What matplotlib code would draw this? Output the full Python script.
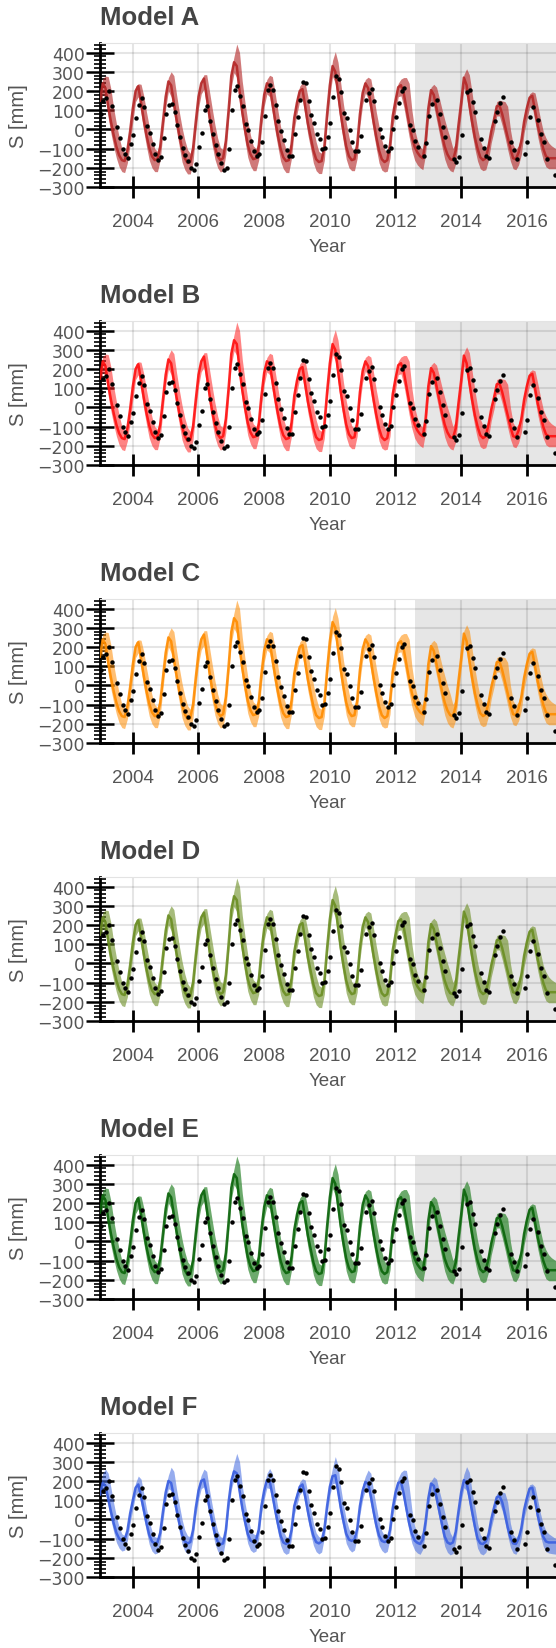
import numpy as np
import matplotlib
matplotlib.use("Agg")
import matplotlib.pyplot as plt
from matplotlib.ticker import MultipleLocator, FixedLocator

plt.rcParams['font.family'] = ['Liberation Sans', 'DejaVu Sans']

nan = np.nan

# observed storage anomaly, one value per month starting Jan 2003 (nan = no data)
OBS_S = [
    80, 150, 165, 200, 120, nan, 10, -45, -100, -130, -150, -75,
    -30, 60, 125, 165, 115, 20, -20, -75, -130, -160, -145, -45,
    80, 125, 130, 90, 25, -40, -95, -135, -165, -200, -210, -180,
    -90, -20, 100, 120, 45, -25, -80, -130, -175, -210, -200, -100,
    100, 205, 225, 175, 120, 30, -5, -60, -115, -140, -130, -65,
    70, 205, 230, 205, 125, 45, -10, -55, -105, -140, -140, -25,
    65, 155, 245, 243, 150, 75, 35, -25, -50, -100, -95, -40,
    35, 170, 278, 263, 195, 85, 60, -5, -65, -110, -110, -35,
    nan, 155, 190, 210, 150, nan, 0, -40, -85, -110, -95, 0,
    65, 135, 200, 215, nan, 25, -5, -62, -93, nan, -140, -72,
    72, 134, nan, 155, 82, 12, -40, nan, nan, -154, -172, -145,
    -28, nan, 196, 205, 143, 89, nan, -51, -98, -138, -148, nan,
    45, 90, 140, 167, nan, nan, -64, -105, -152, nan, nan, -130,
    -64, 62, 117, nan, 51, -23, -67, -156, nan, nan, -239,
]

# models A-E (nearly identical ensembles): median, lower and upper bound, monthly 2003-2016
MED_AE = [
    150, 240, 215, 120, 40, -30, -90, -135, -160, -165, -110, -10,
    110, 200, 225, 140, 50, -30, -95, -140, -160, -155, -90, 40,
    170, 250, 230, 140, 50, -30, -100, -150, -175, -170, -100, 40,
    170, 240, 265, 170, 70, -20, -90, -140, -160, -150, -60, 100,
    280, 350, 330, 200, 90, 0, -80, -130, -155, -150, -90, 60,
    180, 240, 230, 140, 50, -30, -100, -145, -165, -160, -80, 60,
    140, 200, 210, 120, 30, -40, -110, -155, -170, -165, -90, 80,
    230, 330, 300, 190, 80, -10, -90, -140, -160, -155, -80, 80,
    190, 240, 215, 130, 40, -40, -110, -155, -170, -160, -80, 70,
    150, 220, 230, 190, 110, 30, -40, -90, -120, -140, -150, -60,
    110, 205, 180, 110, 40, -30, -90, -130, -155, -160, -110, 20,
    140, 270, 230, 130, 40, -40, -100, -145, -160, -150, -90, -10,
    50, 120, 125, 80, 20, -40, -100, -150, -155, -120, -60, 40,
    110, 165, 175, 100, 20, -40, -100, -140, -150, -150, -150, -150,
]
HI_AE = [
    180, 265, 278, 275, 210, 110, 30, -40, -100, -125, -80, 20,
    140, 225, 238, 235, 175, 90, 15, -50, -100, -115, -60, 70,
    200, 270, 300, 280, 180, 90, 10, -55, -105, -125, -70, 70,
    200, 255, 285, 285, 200, 110, 25, -45, -95, -105, -30, 130,
    310, 380, 445, 400, 250, 140, 45, -30, -85, -100, -60, 90,
    210, 260, 282, 275, 190, 100, 15, -55, -105, -115, -50, 90,
    170, 225, 245, 240, 170, 80, 5, -65, -115, -125, -60, 110,
    260, 360, 405, 350, 240, 130, 35, -40, -95, -110, -50, 110,
    220, 260, 272, 262, 180, 90, 15, -55, -105, -115, -50, 100,
    180, 240, 262, 270, 270, 240, 100, 0, -55, -90, -105, -20,
    150, 220, 235, 220, 165, 105, 50, 0, -45, -100, -70, 50,
    170, 285, 316, 285, 190, 90, 5, -60, -95, -105, -60, 20,
    80, 145, 152, 148, 145, 120, 0, -80, -105, -85, -30, 70,
    140, 185, 196, 190, 125, 55, -10, -45, -70, -85, -95, -105,
]
LO_AE = [
    85, 185, 160, 60, -20, -90, -150, -195, -220, -225, -175, -80,
    40, 145, 170, 80, -10, -90, -160, -200, -220, -220, -160, -20,
    110, 200, 170, 80, -10, -90, -170, -210, -232, -232, -170, -20,
    110, 185, 210, 110, 10, -80, -155, -200, -222, -215, -130, 40,
    220, 295, 270, 140, 30, -60, -145, -190, -215, -215, -160, 0,
    120, 185, 170, 80, -10, -90, -165, -205, -225, -225, -150, 0,
    80, 150, 155, 60, -30, -100, -175, -215, -230, -230, -160, 20,
    170, 275, 240, 130, 20, -70, -155, -200, -215, -215, -150, 20,
    130, 190, 160, 70, -20, -100, -175, -212, -222, -218, -150, 10,
    90, 170, 175, 120, 40, -40, -110, -160, -185, -200, -210, -130,
    40, 150, 120, 50, -20, -90, -155, -195, -215, -222, -180, -50,
    80, 215, 170, 70, -20, -100, -165, -205, -215, -210, -160, -70,
    -10, 70, 70, 20, -40, -105, -165, -205, -210, -185, -130, -20,
    50, 115, 115, 40, -40, -105, -160, -195, -205, -205, -205, -205,
]

# model F
MED_F = [
    130, 190, 175, 110, 40, -20, -70, -100, -112, -105, -60, 30,
    100, 165, 182, 120, 50, -20, -80, -115, -125, -120, -70, 40,
    140, 200, 190, 120, 50, -20, -80, -115, -125, -118, -55, 60,
    150, 200, 208, 140, 60, -10, -75, -115, -130, -125, -55, 90,
    200, 250, 240, 150, 60, -10, -75, -110, -118, -110, -55, 70,
    150, 205, 200, 130, 50, -20, -85, -120, -128, -120, -55, 70,
    120, 170, 182, 120, 40, -30, -85, -118, -125, -115, -50, 70,
    170, 225, 230, 150, 60, -10, -75, -105, -112, -105, -50, 70,
    150, 195, 185, 120, 40, -30, -85, -112, -118, -112, -55, 60,
    140, 190, 196, 135, 55, -20, -75, -110, -122, -128, -105, -10,
    110, 187, 175, 115, 45, -25, -90, -120, -128, -120, -65, 40,
    140, 205, 190, 120, 40, -35, -100, -125, -128, -115, -80, 0,
    60, 115, 122, 90, 30, -40, -95, -125, -128, -100, -45, 50,
    110, 160, 165, 100, 20, -40, -90, -115, -120, -120, -120, -120,
]
HI_F = [
    170, 240, 262, 240, 165, 85, 15, -40, -75, -85, -45, 60,
    130, 190, 226, 210, 135, 55, -10, -60, -90, -95, -45, 70,
    170, 230, 272, 250, 155, 75, 0, -55, -85, -90, -35, 90,
    180, 230, 262, 250, 155, 75, 0, -60, -90, -95, -25, 120,
    230, 295, 344, 300, 175, 85, 10, -45, -75, -80, -25, 100,
    180, 240, 265, 240, 145, 65, -10, -60, -90, -95, -25, 100,
    150, 195, 212, 205, 135, 55, -20, -70, -90, -95, -25, 100,
    200, 270, 327, 280, 165, 75, 0, -50, -75, -80, -25, 100,
    180, 225, 257, 240, 145, 65, -10, -60, -85, -90, -25, 90,
    170, 215, 245, 257, 255, 170, 50, -35, -75, -85, -65, 20,
    140, 200, 222, 210, 150, 95, 35, -20, -70, -95, -40, 70,
    160, 235, 275, 245, 145, 65, -20, -80, -95, -90, -50, 30,
    90, 135, 142, 142, 138, 90, -20, -80, -95, -75, -15, 80,
    140, 180, 185, 170, 100, 30, -25, -60, -75, -85, -95, -100,
]
LO_F = [
    85, 150, 135, 65, -5, -65, -120, -150, -165, -160, -110, -20,
    55, 125, 145, 75, 5, -65, -130, -165, -180, -175, -120, -10,
    95, 160, 150, 75, 5, -65, -130, -165, -180, -172, -100, 15,
    105, 160, 170, 95, 15, -55, -125, -165, -185, -180, -100, 45,
    155, 210, 200, 105, 15, -55, -125, -160, -172, -165, -100, 25,
    105, 165, 160, 85, 5, -65, -135, -170, -182, -175, -100, 25,
    75, 130, 145, 75, -5, -75, -135, -168, -180, -170, -95, 25,
    125, 185, 190, 105, 15, -55, -125, -155, -170, -160, -95, 25,
    105, 155, 145, 75, -5, -75, -135, -162, -175, -167, -100, 15,
    95, 150, 155, 90, 10, -65, -125, -160, -175, -182, -155, -60,
    65, 145, 135, 70, 0, -70, -140, -172, -185, -178, -115, -5,
    95, 165, 150, 75, -5, -80, -150, -178, -185, -172, -130, -45,
    15, 75, 85, 45, -15, -85, -145, -175, -182, -155, -95, 5,
    65, 120, 125, 55, -25, -85, -140, -168, -175, -178, -180, -182,
]

MODELS = ["Model A", "Model B", "Model C", "Model D", "Model E", "Model F"]
LINE_COLORS = ["#b52828", "#ff1010", "#ff8c00", "#6b8e23", "#0a640a", "#3a5fe0"]
BAND_COLORS = ["#b22222", "#ff2020", "#ff8c00", "#6b8e23", "#2e862e", "#4169e1"]
BAND_ALPHA = [0.6, 0.55, 0.55, 0.6, 0.7, 0.55]
TEST_START = 2012.6

t_obs = 2003.02 + np.arange(len(OBS_S)) / 12.0
t_mod = 2003.0 + np.arange(len(MED_AE)) / 12.0

W, H = 556, 1649
STEP = 278
fig = plt.figure(figsize=(W / 100, H / 100), dpi=100)

for i, name in enumerate(MODELS):
    if name == "Model F":
        med, lo, hi = MED_F, LO_F, HI_F
    else:
        med, lo, hi = MED_AE, LO_AE, HI_AE

    top = 44 + i * STEP
    ax = fig.add_axes([100 / W, 1 - (top + 144) / H, 458 / W, 144 / H])

    ax.axvspan(TEST_START, 2018, color="#e6e6e6", lw=0, zorder=0.1)
    ax.fill_between(t_mod, lo, hi, color=BAND_COLORS[i], alpha=BAND_ALPHA[i], lw=0, zorder=2)
    ax.plot(t_mod, med, color=LINE_COLORS[i], lw=1.8, alpha=0.9, zorder=3)
    ax.plot(t_obs, OBS_S, 'o', color='black', ms=3.2, mew=0, zorder=4)

    ax.set_xlim(2003.0, 2016.95)
    ax.set_ylim(-300, 450)
    ax.xaxis.set_major_locator(FixedLocator([2004, 2006, 2008, 2010, 2012, 2014, 2016]))
    ax.yaxis.set_major_locator(FixedLocator(range(-300, 401, 100)))
    ax.yaxis.set_minor_locator(MultipleLocator(20))

    ax.set_axisbelow(True)
    ax.grid(True, which='major', color='black', alpha=0.1, lw=1.5)

    ax.spines['right'].set_visible(False)
    ax.spines['top'].set_color('#e3e3e3')
    ax.spines['left'].set_linewidth(2)
    ax.spines['bottom'].set_linewidth(2)

    ax.tick_params(axis='x', which='major', direction='inout', length=16, width=2,
                   colors='black', labelcolor='#555555', labelsize=13.5, pad=11)
    ax.tick_params(axis='y', which='major', direction='inout', length=20, width=1.8,
                   colors='black', labelcolor='#555555', pad=1)
    ax.tick_params(axis='y', which='minor', direction='inout', length=8, width=1.2,
                   colors='black')
    ax.tick_params(axis='x', which='minor', bottom=False)
    for lab in ax.get_yticklabels():
        lab.set_fontfamily('DejaVu Sans')
        lab.set_fontsize(12.5)

    fig.text(100 / W, 1 - (18 + i * STEP) / H, name, fontsize=18.5, fontweight='bold',
             color='#444444', ha='left', va='center')
    fig.text(328 / W, 1 - (248 + i * STEP) / H, "Year", fontsize=13.5,
             color='#555555', ha='center', va='center')
    fig.text(19 / W, 1 - (116 + i * STEP) / H, "S [mm]", fontsize=14.5, rotation=90,
             color='#555555', ha='center', va='center')

fig.savefig("out.png", dpi=100)
